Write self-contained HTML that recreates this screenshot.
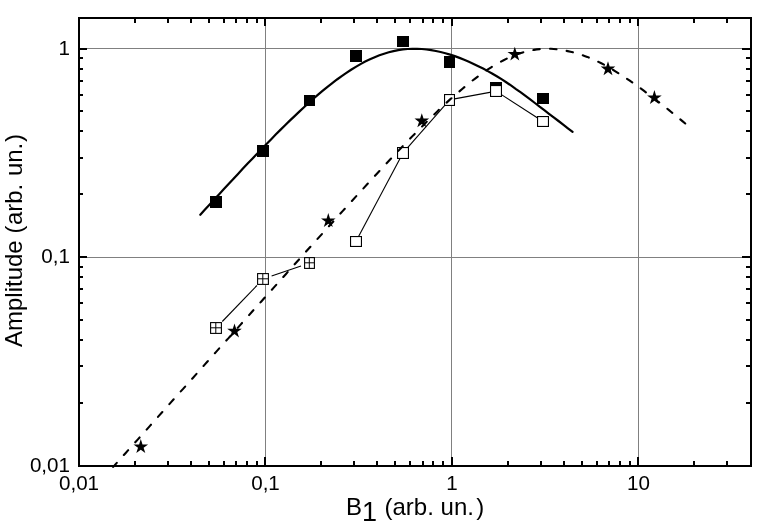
<!DOCTYPE html>
<html lang="en"><head><meta charset="utf-8"><title>Amplitude vs B1</title>
<style>
html,body{margin:0;padding:0;background:#fff;}
body{width:763px;height:530px;overflow:hidden;}
svg{display:block;}
text{font-family:"Liberation Sans",sans-serif;fill:#000;}
.tick{font-size:20.6px;}
.title{font-size:24px;}
</style></head><body>
<svg width="763" height="530" viewBox="0 0 763 530">
<rect width="763" height="530" fill="#fff"/>
<g stroke="#808080" stroke-width="1" fill="none" shape-rendering="crispEdges">
<line x1="265.5" y1="18" x2="265.5" y2="466"/>
<line x1="451.5" y1="18" x2="451.5" y2="466"/>
<line x1="638.5" y1="18" x2="638.5" y2="466"/>
<line x1="79" y1="48.5" x2="751" y2="48.5"/>
<line x1="79" y1="257.5" x2="751" y2="257.5"/>
</g>
<g stroke="#000" stroke-width="2" fill="none" shape-rendering="crispEdges">
<line x1="135" y1="466" x2="135" y2="461"/><line x1="135" y1="18" x2="135" y2="23"/>
<line x1="168" y1="466" x2="168" y2="461"/><line x1="168" y1="18" x2="168" y2="23"/>
<line x1="191" y1="466" x2="191" y2="461"/><line x1="191" y1="18" x2="191" y2="23"/>
<line x1="209" y1="466" x2="209" y2="461"/><line x1="209" y1="18" x2="209" y2="23"/>
<line x1="224" y1="466" x2="224" y2="461"/><line x1="224" y1="18" x2="224" y2="23"/>
<line x1="236" y1="466" x2="236" y2="461"/><line x1="236" y1="18" x2="236" y2="23"/>
<line x1="247" y1="466" x2="247" y2="461"/><line x1="247" y1="18" x2="247" y2="23"/>
<line x1="257" y1="466" x2="257" y2="461"/><line x1="257" y1="18" x2="257" y2="23"/>
<line x1="265" y1="466" x2="265" y2="457"/><line x1="265" y1="18" x2="265" y2="26"/>
<line x1="321" y1="466" x2="321" y2="461"/><line x1="321" y1="18" x2="321" y2="23"/>
<line x1="354" y1="466" x2="354" y2="461"/><line x1="354" y1="18" x2="354" y2="23"/>
<line x1="377" y1="466" x2="377" y2="461"/><line x1="377" y1="18" x2="377" y2="23"/>
<line x1="395" y1="466" x2="395" y2="461"/><line x1="395" y1="18" x2="395" y2="23"/>
<line x1="410" y1="466" x2="410" y2="461"/><line x1="410" y1="18" x2="410" y2="23"/>
<line x1="423" y1="466" x2="423" y2="461"/><line x1="423" y1="18" x2="423" y2="23"/>
<line x1="433" y1="466" x2="433" y2="461"/><line x1="433" y1="18" x2="433" y2="23"/>
<line x1="443" y1="466" x2="443" y2="461"/><line x1="443" y1="18" x2="443" y2="23"/>
<line x1="452" y1="466" x2="452" y2="457"/><line x1="452" y1="18" x2="452" y2="26"/>
<line x1="508" y1="466" x2="508" y2="461"/><line x1="508" y1="18" x2="508" y2="23"/>
<line x1="541" y1="466" x2="541" y2="461"/><line x1="541" y1="18" x2="541" y2="23"/>
<line x1="564" y1="466" x2="564" y2="461"/><line x1="564" y1="18" x2="564" y2="23"/>
<line x1="582" y1="466" x2="582" y2="461"/><line x1="582" y1="18" x2="582" y2="23"/>
<line x1="597" y1="466" x2="597" y2="461"/><line x1="597" y1="18" x2="597" y2="23"/>
<line x1="609" y1="466" x2="609" y2="461"/><line x1="609" y1="18" x2="609" y2="23"/>
<line x1="620" y1="466" x2="620" y2="461"/><line x1="620" y1="18" x2="620" y2="23"/>
<line x1="630" y1="466" x2="630" y2="461"/><line x1="630" y1="18" x2="630" y2="23"/>
<line x1="638" y1="466" x2="638" y2="457"/><line x1="638" y1="18" x2="638" y2="26"/>
<line x1="694" y1="466" x2="694" y2="461"/><line x1="694" y1="18" x2="694" y2="23"/>
<line x1="727" y1="466" x2="727" y2="461"/><line x1="727" y1="18" x2="727" y2="23"/>
<line x1="79" y1="403" x2="83" y2="403"/><line x1="751" y1="403" x2="746" y2="403"/>
<line x1="79" y1="366" x2="83" y2="366"/><line x1="751" y1="366" x2="746" y2="366"/>
<line x1="79" y1="340" x2="83" y2="340"/><line x1="751" y1="340" x2="746" y2="340"/>
<line x1="79" y1="320" x2="83" y2="320"/><line x1="751" y1="320" x2="746" y2="320"/>
<line x1="79" y1="303" x2="83" y2="303"/><line x1="751" y1="303" x2="746" y2="303"/>
<line x1="79" y1="289" x2="83" y2="289"/><line x1="751" y1="289" x2="746" y2="289"/>
<line x1="79" y1="277" x2="83" y2="277"/><line x1="751" y1="277" x2="746" y2="277"/>
<line x1="79" y1="267" x2="83" y2="267"/><line x1="751" y1="267" x2="746" y2="267"/>
<line x1="79" y1="257" x2="87" y2="257"/><line x1="751" y1="257" x2="742" y2="257"/>
<line x1="79" y1="194" x2="83" y2="194"/><line x1="751" y1="194" x2="746" y2="194"/>
<line x1="79" y1="158" x2="83" y2="158"/><line x1="751" y1="158" x2="746" y2="158"/>
<line x1="79" y1="131" x2="83" y2="131"/><line x1="751" y1="131" x2="746" y2="131"/>
<line x1="79" y1="111" x2="83" y2="111"/><line x1="751" y1="111" x2="746" y2="111"/>
<line x1="79" y1="95" x2="83" y2="95"/><line x1="751" y1="95" x2="746" y2="95"/>
<line x1="79" y1="81" x2="83" y2="81"/><line x1="751" y1="81" x2="746" y2="81"/>
<line x1="79" y1="69" x2="83" y2="69"/><line x1="751" y1="69" x2="746" y2="69"/>
<line x1="79" y1="58" x2="83" y2="58"/><line x1="751" y1="58" x2="746" y2="58"/>
<line x1="79" y1="49" x2="87" y2="49"/><line x1="751" y1="49" x2="742" y2="49"/>
</g>
<g fill="#000">
<rect x="210" y="196" width="12" height="12"/>
<rect x="257" y="145" width="12" height="12"/>
<rect x="304" y="95" width="11" height="11"/>
<rect x="350" y="50" width="12" height="12"/>
<rect x="397" y="36" width="12" height="11"/>
<rect x="444" y="56" width="11" height="12"/>
<rect x="490" y="82" width="12" height="12"/>
<rect x="537" y="93" width="12" height="11"/>
</g>
<path d="M200.3,214.8 L205.0,209.6 L209.7,204.5 L214.4,199.3 L219.2,194.2 L223.9,189.1 L228.6,184.0 L233.3,178.9 L238.0,173.9 L242.7,168.8 L247.4,163.8 L252.1,158.9 L256.9,153.9 L261.6,149.0 L266.3,144.2 L271.0,139.4 L275.7,134.6 L280.4,129.9 L285.1,125.2 L289.8,120.6 L294.6,116.1 L299.3,111.6 L304.0,107.2 L308.7,102.9 L313.4,98.7 L318.1,94.7 L322.8,90.7 L327.5,86.8 L332.3,83.1 L337.0,79.5 L341.7,76.1 L346.4,72.9 L351.1,69.8 L355.8,66.9 L360.5,64.1 L365.2,61.6 L370.0,59.3 L374.7,57.2 L379.4,55.3 L384.1,53.7 L388.8,52.3 L393.5,51.1 L398.2,50.1 L402.9,49.4 L407.7,49.0 L412.4,48.8 L417.1,48.8 L421.8,49.0 L426.5,49.5 L431.2,50.1 L435.9,51.0 L440.6,52.0 L445.4,53.2 L450.1,54.6 L454.8,56.1 L459.5,57.9 L464.2,59.8 L468.9,61.8 L473.6,63.9 L478.3,66.2 L483.1,68.6 L487.8,71.1 L492.5,73.7 L497.2,76.5 L501.9,79.4 L506.6,82.5 L511.3,85.7 L516.0,89.1 L520.8,92.4 L525.5,95.9 L530.2,99.4 L534.9,103.0 L539.6,106.7 L544.3,110.2 L549.0,113.8 L553.7,117.4 L558.5,121.0 L563.2,124.6 L567.9,128.3 L572.6,131.9" fill="none" stroke="#000" stroke-width="2.2" stroke-linecap="round"/>
<g stroke="#000" stroke-width="1.1" fill="none">
<line x1="358.3" y1="236.9" x2="400.7" y2="157.3"/>
<line x1="406.3" y1="149.1" x2="446.3" y2="103.6"/>
<line x1="454.5" y1="98.9" x2="491.1" y2="92.1"/>
<line x1="500.2" y1="93.9" x2="538.8" y2="118.7"/>
<line x1="222.3" y1="321.5" x2="256.9" y2="285.5"/>
<line x1="271.6" y1="276.1" x2="301.0" y2="266.0"/>
</g>
<g stroke="#000" stroke-width="1.1" fill="#fff">
<rect x="350.55" y="236.55" width="10.9" height="9.9"/>
<rect x="397.55" y="147.55" width="10.9" height="10.9"/>
<rect x="444.55" y="94.55" width="9.9" height="10.9"/>
<rect x="490.55" y="85.55" width="10.9" height="10.9"/>
<rect x="537.55" y="116.55" width="10.9" height="9.9"/>
<rect x="210.6" y="322.6" width="10.8" height="10.8"/>
<path d="M211,327.8H221M215.8,323V333" stroke-width="1"/>
<rect x="257.6" y="273.6" width="10.8" height="10.8"/>
<path d="M258,278.8H268M262.8,274V284" stroke-width="1"/>
<rect x="304.6" y="257.6" width="9.8" height="10.8"/>
<path d="M305,262.8H314M309.3,258V268" stroke-width="1"/>
</g>
<path d="M113.2,466.9 L117.3,462.3 L121.4,457.7 L125.5,453.2 L129.6,448.6 L133.7,444.0 L137.9,439.4 L142.0,434.8 L146.1,430.2 L150.2,425.6 L154.3,421.0 L158.4,416.4 L162.5,411.8 L166.6,407.2 L170.7,402.6 L174.8,398.0 L178.9,393.4 L183.1,388.9 L187.2,384.3 L191.3,379.7 L195.4,375.1 L199.5,370.5 L203.6,365.9 L207.7,361.3 L211.8,356.7 L215.9,352.1 L220.0,347.5 L224.1,342.9 L228.3,338.4 L232.4,333.8 L236.5,329.2 L240.6,324.6 L244.7,320.0 L248.8,315.4 L252.9,310.8 L257.0,306.2 L261.1,301.7 L265.2,297.1 L269.3,292.5 L273.5,287.9 L277.6,283.3 L281.7,278.7 L285.8,274.2 L289.9,269.6 L294.0,265.0 L298.1,260.5 L302.2,255.9 L306.3,251.3 L310.4,246.8 L314.5,242.2 L318.7,237.6 L322.8,233.1 L326.9,228.5 L331.0,224.0 L335.1,219.5 L339.2,214.9 L343.3,210.4 L347.4,205.9 L351.5,201.4 L355.6,196.9 L359.7,192.4 L363.9,187.9 L368.0,183.4 L372.1,179.0 L376.2,174.5 L380.3,170.1 L384.4,165.7 L388.5,161.3 L392.6,156.9 L396.7,152.6 L400.8,148.2 L404.9,143.9 L409.1,139.7 L413.2,135.4 L417.3,131.3 L421.4,127.1 L425.5,123.0 L429.6,118.9 L433.7,114.9 L437.8,110.9 L441.9,107.0 L446.0,103.2 L450.1,99.4 L454.3,95.8 L458.4,92.2 L462.5,88.7 L466.6,85.3 L470.7,81.9 L474.8,78.8 L478.9,75.7 L483.0,72.7 L487.1,69.9 L491.2,67.3 L495.3,64.8 L499.5,62.4 L503.6,60.2 L507.7,58.2 L511.8,56.4 L515.9,54.8 L520.0,53.3" fill="none" stroke="#000" stroke-width="2.1" stroke-linecap="round" stroke-dasharray="6.5 10.57" stroke-dashoffset="1.1"/>
<path d="M520.0,53.3 L522.8,52.4 L525.6,51.6 L528.4,50.9 L531.2,50.4 L534.0,49.9 L536.8,49.4 L539.6,49.1 L542.4,48.9 L545.2,48.8 L548.1,48.8 L550.9,48.8 L553.7,49.0 L556.5,49.3 L559.3,49.6 L562.1,50.0 L564.9,50.5 L567.7,51.1 L570.5,51.7 L573.3,52.4 L576.1,53.2 L578.9,54.0 L581.7,54.9 L584.5,55.9 L587.3,56.9 L590.1,58.1 L592.9,59.3 L595.7,60.5 L598.5,61.9 L601.3,63.3 L604.2,64.8 L607.0,66.4 L609.8,68.0 L612.6,69.6 L615.4,71.3 L618.2,73.1 L621.0,74.9 L623.8,76.7 L626.6,78.5 L629.4,80.4 L632.2,82.4 L635.0,84.3 L637.8,86.3 L640.6,88.4 L643.4,90.4 L646.2,92.5 L649.0,94.6 L651.8,96.7 L654.6,98.9 L657.4,101.1 L660.3,103.2 L663.1,105.5 L665.9,107.7 L668.7,109.9 L671.5,112.2 L674.3,114.5 L677.1,116.7 L679.9,119.0 L682.7,121.4 L685.5,123.7" fill="none" stroke="#000" stroke-width="2.1" stroke-linecap="round" stroke-dasharray="6.5 10.25" stroke-dashoffset="3.0"/>
<g fill="#000">
<polygon points="140.8,439.1 142.5,444.4 148.1,444.4 143.6,447.7 145.3,453.0 140.8,449.7 136.3,453.0 138.0,447.7 133.5,444.4 139.1,444.4"/>
<polygon points="234.5,323.5 236.2,328.8 241.8,328.8 237.3,332.1 239.0,337.4 234.5,334.1 230.0,337.4 231.7,332.1 227.2,328.8 232.8,328.8"/>
<polygon points="328.3,213.1 330.0,218.4 335.6,218.4 331.1,221.7 332.8,227.0 328.3,223.7 323.8,227.0 325.5,221.7 321.0,218.4 326.6,218.4"/>
<polygon points="421.8,113.3 423.5,118.6 429.1,118.6 424.6,121.9 426.3,127.2 421.8,123.9 417.3,127.2 419.0,121.9 414.5,118.6 420.1,118.6"/>
<polygon points="514.8,46.7 516.5,52.0 522.1,52.0 517.6,55.3 519.3,60.6 514.8,57.3 510.3,60.6 512.0,55.3 507.5,52.0 513.1,52.0"/>
<polygon points="608.0,61.3 609.7,66.6 615.3,66.6 610.8,69.9 612.5,75.2 608.0,71.9 603.5,75.2 605.2,69.9 600.7,66.6 606.3,66.6"/>
<polygon points="654.4,90.1 656.1,95.4 661.7,95.4 657.2,98.7 658.9,104.0 654.4,100.7 649.9,104.0 651.6,98.7 647.1,95.4 652.7,95.4"/>
</g>
<rect x="79" y="18" width="672" height="448" fill="none" stroke="#000" stroke-width="2" shape-rendering="crispEdges"/>
<text class="tick" x="79.0" y="490.3" text-anchor="middle">0,01</text>
<text class="tick" x="265.5" y="490.3" text-anchor="middle">0,1</text>
<text class="tick" x="452.0" y="490.3" text-anchor="middle">1</text>
<text class="tick" x="638.5" y="490.3" text-anchor="middle">10</text>
<text class="tick" x="70" y="471.6" text-anchor="end">0,01</text>
<text class="tick" x="70" y="262.6" text-anchor="end">0,1</text>
<text class="tick" x="70" y="54.6" text-anchor="end">1</text>
<text class="title" x="346" y="515.4">B<tspan font-size="27" dy="5.3" letter-spacing="0">1</tspan><tspan dy="-5.3" dx="0.8"> (arb. un.</tspan><tspan dx="2.3">)</tspan></text>
<text class="title" transform="translate(22.2,347) rotate(-90)" x="0" y="0">Amplitude (<tspan dx="0.5">arb. </tspan><tspan dx="1">un.</tspan><tspan dx="0.8">)</tspan></text>
</svg></body></html>
